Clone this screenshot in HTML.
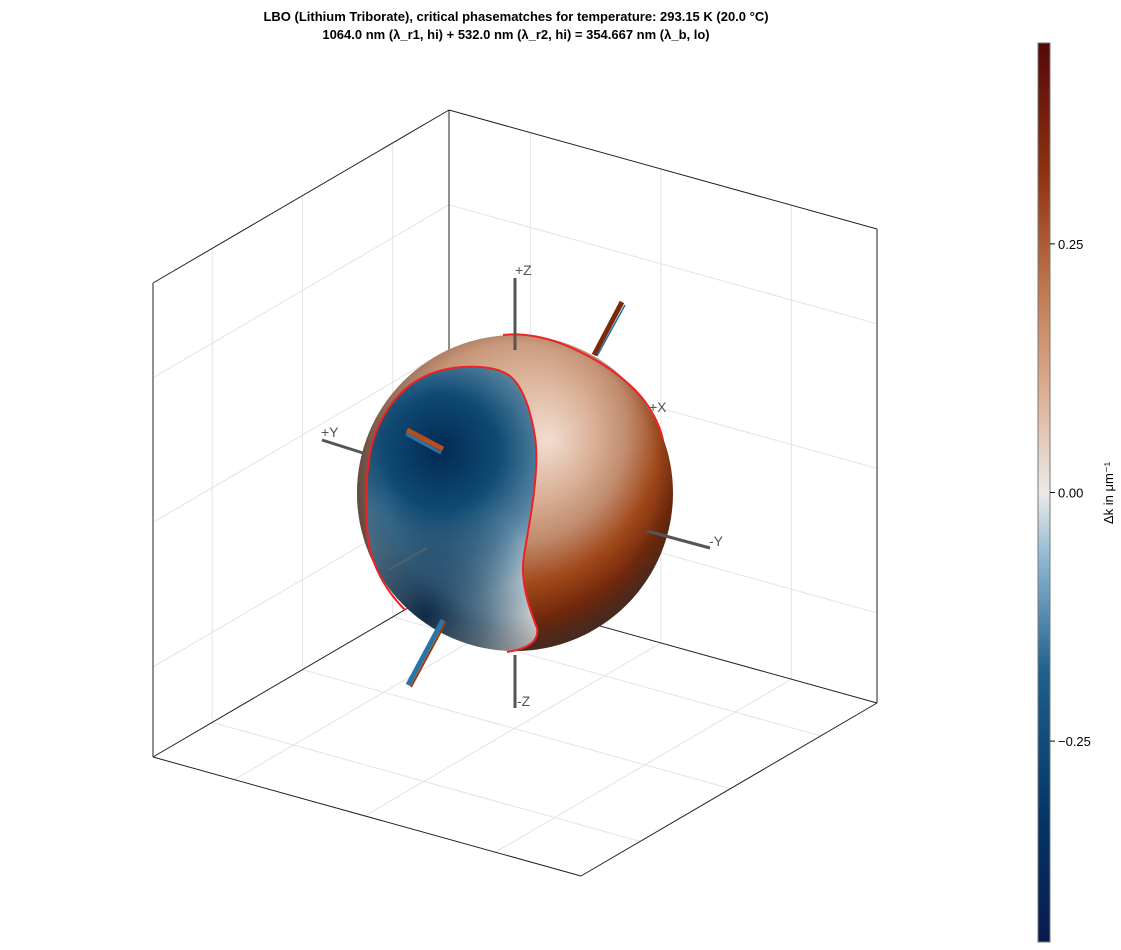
<!DOCTYPE html>
<html><head><meta charset="utf-8"><style>
html,body{margin:0;padding:0;background:#fff;}
svg{display:block;font-family:"Liberation Sans",Arial,sans-serif;}
</style></head><body>
<svg id="chart" width="1121" height="950" viewBox="0 0 1121 950">
<defs>
  <linearGradient id="cbar" x1="0" y1="1" x2="0" y2="0">
    <stop offset="0" stop-color="#0a1a4e"/>
    <stop offset="0.15" stop-color="#03386a"/>
    <stop offset="0.3" stop-color="#1f5f8e"/>
    <stop offset="0.42" stop-color="#88b4cf"/>
    <stop offset="0.5" stop-color="#eceae8"/>
    <stop offset="0.6" stop-color="#dfb49b"/>
    <stop offset="0.72" stop-color="#c27b51"/>
    <stop offset="0.85" stop-color="#8f3410"/>
    <stop offset="1" stop-color="#55080a"/>
  </linearGradient>
  <radialGradient id="brown" cx="470" cy="420" r="265" fx="550" fy="440" gradientUnits="userSpaceOnUse">
    <stop offset="0" stop-color="#f2ddd0"/>
    <stop offset="0.25" stop-color="#d8ae94"/>
    <stop offset="0.42" stop-color="#c08a6c"/>
    <stop offset="0.6" stop-color="#a0481a"/>
    <stop offset="0.75" stop-color="#74290b"/>
    <stop offset="0.9" stop-color="#4e2e22"/>
  </radialGradient>
  <linearGradient id="leftgray" x1="357" y1="0" x2="440" y2="0" gradientUnits="userSpaceOnUse">
    <stop offset="0" stop-color="#6a584e" stop-opacity="0.9"/>
    <stop offset="0.5" stop-color="#a08a7e" stop-opacity="0.5"/>
    <stop offset="1" stop-color="#b8a090" stop-opacity="0"/>
  </linearGradient>
  <radialGradient id="blue" cx="445" cy="455" r="190" fx="440" fy="450" gradientUnits="userSpaceOnUse">
    <stop offset="0" stop-color="#022a52"/>
    <stop offset="0.3" stop-color="#0e4a74"/>
    <stop offset="0.55" stop-color="#5c88a4"/>
    <stop offset="0.78" stop-color="#c6d6de"/>
    <stop offset="1" stop-color="#e6e2de"/>
  </radialGradient>
  <radialGradient id="bluelow" cx="425" cy="615" r="120" gradientUnits="userSpaceOnUse">
    <stop offset="0" stop-color="#022448" stop-opacity="0.95"/>
    <stop offset="0.5" stop-color="#0a3656" stop-opacity="0.6"/>
    <stop offset="1" stop-color="#0a3656" stop-opacity="0"/>
  </radialGradient>
  <radialGradient id="shade" cx="520" cy="480" r="170" gradientUnits="userSpaceOnUse">
    <stop offset="0.8" stop-color="#000" stop-opacity="0"/>
    <stop offset="1" stop-color="#222" stop-opacity="0.25"/>
  </radialGradient>
  <clipPath id="sph"><circle cx="515" cy="493" r="158"/></clipPath>
  <clipPath id="blueclip"><path d="M507,652 C520,650 540,645 537,628 C528,605 520,580 524,555 C530,520 540,470 535,437 C530,405 520,380 505,373 C490,365 455,364 430,374 C405,384 385,405 373,440 C365,470 365,510 368,540 C372,565 385,590 405,610 C430,635 470,652 507,652 Z"/></clipPath>
</defs>

<text x="516" y="21" text-anchor="middle" font-size="13" font-weight="bold" fill="#000">LBO (Lithium Triborate), critical phasematches for temperature: 293.15 K (20.0 °C)</text>
<text x="516" y="39" text-anchor="middle" font-size="13" font-weight="bold" fill="#000">1064.0 nm (λ_r1, hi) + 532.0 nm (λ_r2, hi) = 354.667 nm (λ_b, lo)</text>

<g id="box"></g>

<g>
  <circle cx="515" cy="493" r="158" fill="url(#brown)"/>
  <g clip-path="url(#sph)">
    <rect x="350" y="330" width="100" height="330" fill="url(#leftgray)"/>
    <g clip-path="url(#blueclip)">
      <rect x="350" y="330" width="200" height="330" fill="url(#blue)"/>
      <rect x="350" y="330" width="200" height="330" fill="url(#bluelow)"/>
    </g>
    <circle cx="515" cy="493" r="158" fill="url(#shade)"/>
  </g>
  <path d="M507,652 C520,650 540,645 537,628 C528,605 520,580 524,555 C530,520 540,470 535,437 C530,405 520,380 505,373 C490,365 455,364 430,374 C405,384 385,405 373,440 C365,470 365,510 368,540 C372,565 385,590 405,610" fill="none" stroke="#ee2222" stroke-width="2"/>
  <path d="M503,335 C520,333 540,336 560,343 C590,355 615,370 635,390 C650,405 660,425 663,440" fill="none" stroke="#ee2222" stroke-width="2"/>
</g>

<g stroke="#555" stroke-width="3" fill="none">
  <line x1="515" y1="278" x2="515" y2="350"/>
  <line x1="515" y1="655" x2="515" y2="708"/>
  <line x1="322" y1="440" x2="363" y2="453"/>
  <line x1="647" y1="531" x2="710" y2="548"/>
  <line x1="427" y1="548" x2="388" y2="570" stroke="#666" stroke-opacity="0.6" stroke-width="2"/>
</g>
<g font-size="14" fill="#555">
  <text x="515" y="275">+Z</text>
  <text x="517" y="706">-Z</text>
  <text x="321" y="437">+Y</text>
  <text x="709" y="546">-Y</text>
  <text x="649" y="412">+X</text>
</g>
<g>
  <line x1="622" y1="302" x2="594" y2="355" stroke="#7a2a08" stroke-width="5"/>
  <line x1="625" y1="305" x2="597" y2="356" stroke="#1f6ea0" stroke-width="1.5"/>
  <line x1="407" y1="430" x2="443" y2="449" stroke="#b84e1c" stroke-width="5"/>
  <line x1="406" y1="434" x2="441" y2="453" stroke="#2a74a8" stroke-width="3"/>
  <line x1="443" y1="620" x2="408" y2="685" stroke="#2a74a8" stroke-width="5"/>
  <line x1="446" y1="622" x2="411" y2="687" stroke="#9a3a10" stroke-width="2"/>
</g>

<g>
  <rect x="1038" y="43" width="12" height="899" fill="url(#cbar)" stroke="#777" stroke-width="1"/>
  <g id="cbticks"></g>
  <text transform="translate(1113,493) rotate(-90)" text-anchor="middle" font-size="13" fill="#000">Δk in μm⁻¹</text>
</g>

<script>
const cbTickValues = [0.25, 0.0, -0.25];
const cbTickLabels = ["0.25", "0.00", "−0.25"];
const cbDomain = [-0.452, 0.452];
const gridFractions = [0.19, 0.495, 0.8];

const NS = "http://www.w3.org/2000/svg";
function mk(tag, attrs, parent){const e=document.createElementNS(NS,tag);for(const k in attrs)e.setAttribute(k,attrs[k]);parent.appendChild(e);return e;}

const cbTop=43, cbBot=942;
function cbY(v){return cbBot-(v-cbDomain[0])/(cbDomain[1]-cbDomain[0])*(cbBot-cbTop);}
const cbg=document.getElementById('cbticks');
cbTickValues.forEach((v,i)=>{
  const y=cbY(v);
  const t=mk('line',{x1:1050,y1:y,x2:1055,y2:y,stroke:'#000','stroke-width':1},cbg);
  
  
  const l=mk('text',{x:1058,y:y+5,'font-size':13,fill:'#000'},cbg);
  l.textContent=cbTickLabels[i];
  
  
});

const O=[449,584], EX=[-296,173], EY=[428,119], EZ=[0,-474];
function P(a,b,c){return [O[0]+a*EX[0]+b*EY[0]+c*EZ[0], O[1]+a*EX[1]+b*EY[1]+c*EZ[1]];}
const box=document.getElementById('box');
function seg(p,q,stroke,name){const l=mk('line',{x1:p[0],y1:p[1],x2:q[0],y2:q[1],stroke:stroke,'stroke-width':1},box);}
const gc='#e3e3e3';
gridFractions.forEach(f=>{
  seg(P(f,0,0),P(f,0,1),gc,'gridline-left-wall');
  seg(P(0,0,f),P(1,0,f),gc,'gridline-left-wall');
  seg(P(0,f,0),P(0,f,1),gc,'gridline-right-wall');
  seg(P(0,0,f),P(0,1,f),gc,'gridline-right-wall');
  seg(P(f,0,0),P(f,1,0),gc,'gridline-floor');
  seg(P(0,f,0),P(1,f,0),gc,'gridline-floor');
});
const bc='#222';
seg(P(0,0,0),P(0,0,1),bc,'box-edge');
seg(P(0,0,1),P(1,0,1),bc,'box-edge');
seg(P(0,0,1),P(0,1,1),bc,'box-edge');
seg(P(1,0,0),P(1,0,1),bc,'box-edge');
seg(P(0,1,0),P(0,1,1),bc,'box-edge');
seg(P(0,0,0),P(1,0,0),bc,'box-edge');
seg(P(0,0,0),P(0,1,0),bc,'box-edge');
seg(P(1,0,0),P(1,1,0),bc,'box-edge');
seg(P(0,1,0),P(1,1,0),bc,'box-edge');
</script>
</svg>
</body></html>
